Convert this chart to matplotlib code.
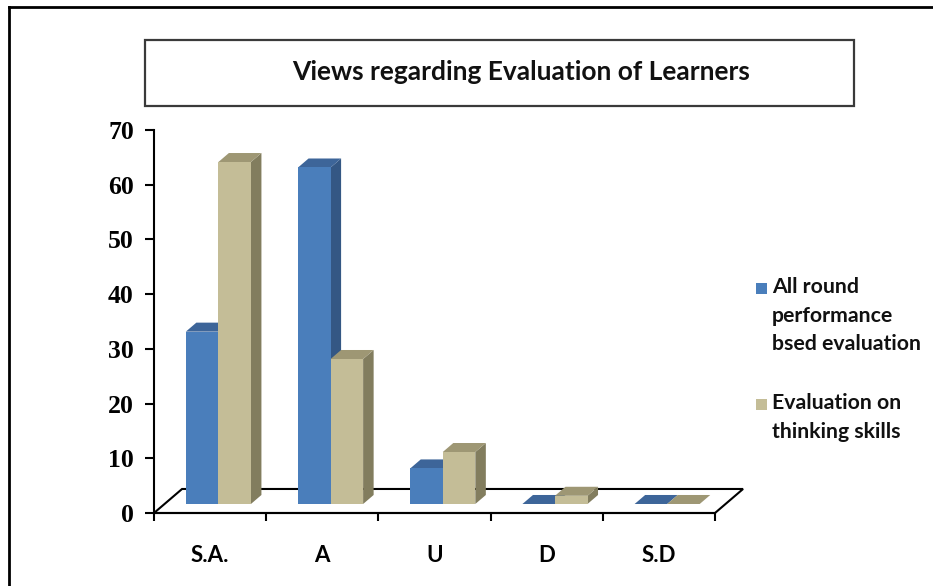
import matplotlib
matplotlib.use('Agg')
from matplotlib import pyplot as plt
from matplotlib.patches import Polygon, Rectangle
from matplotlib.lines import Line2D

categories = ['S.A.', 'A', 'U', 'D', 'S.D']
all_round = [31.5, 61.5, 6.5, 0, 0]
thinking = [62.5, 26.5, 9.5, 1.5, 0]
series_names = ['All round\nperformance\nbsed evaluation', 'Evaluation on\nthinking skills']
yticks = [0, 10, 20, 30, 40, 50, 60, 70]

W, H = 933, 586
front_cols = ['#4A7EBB', '#C4BD97']
top_cols = ['#3D6599', '#9E9774']
side_cols = ['#345784', '#827D5E']


def fx(px):
    return px / W


def fy(py):
    return 1 - py / H


fig = plt.figure(figsize=(W / 100, H / 100), dpi=100)
fig.patch.set_facecolor('white')

# outer frame (only left and top visible in the picture)
fig.add_artist(Line2D([fx(9), fx(9)], [fy(7), fy(600)], color='black', lw=2))
fig.add_artist(Line2D([fx(9), fx(940)], [fy(7), fy(7)], color='black', lw=2))

# title box
fig.add_artist(Rectangle((fx(145), fy(106)), fx(854) - fx(145), fy(40) - fy(106),
                         facecolor='white', edgecolor='#3a3a3a', lw=1.6))
fig.text(fx(521), fy(72), 'Views regarding Evaluation of Learners', ha='center', va='center',
         fontsize=19, fontweight='bold', family='Lato', color='#111111')

ax = fig.add_axes([fx(154), fy(513), fx(715) - fx(154), fy(130) - fy(513)])
ax.set_xlim(0, len(categories))
ax.set_ylim(0, 70)
ax.patch.set_alpha(0)
for s in ['top', 'right']:
    ax.spines[s].set_visible(False)
ax.spines['left'].set_linewidth(1.5)
ax.spines['bottom'].set_linewidth(1.5)

# depth of the floor, in data units
ddx, ddy = 0.25, 4.39
n = len(categories)
floor = Polygon([(0, 0), (ddx, ddy), (n + ddx, ddy), (n, 0)], closed=True,
                facecolor='white', edgecolor='black', lw=1.5, clip_on=False, zorder=1)
ax.add_patch(floor)

f = 0.375   # front of bars, fraction of floor depth
w = 0.29
bx, by = f * ddx, f * ddy
for i in range(n):
    for j, vals in enumerate([all_round, thinking]):
        v = vals[i]
        x0 = i + 0.5 - w + j * w + bx - 0.02
        x1 = x0 + w
        y0 = by
        y1 = y0 + v
        z = 3 + i * 2 + j
        ax.add_patch(Polygon([(x1, y0), (x1 + bx, y0 + by), (x1 + bx, y1 + by), (x1, y1)],
                             facecolor=side_cols[j], edgecolor='none', clip_on=False, zorder=z))
        ax.add_patch(Polygon([(x0, y1), (x0 + bx, y1 + by), (x1 + bx, y1 + by), (x1, y1)],
                             facecolor=top_cols[j], edgecolor='none', clip_on=False, zorder=z))
        if v > 0:
            ax.add_patch(Rectangle((x0, y0), w, v, facecolor=front_cols[j], edgecolor='none',
                                   clip_on=False, zorder=z))

ax.set_yticks(yticks)
ax.set_yticklabels([str(t) for t in yticks], family='Liberation Serif', fontweight='bold', fontsize=18.5)
ax.tick_params(axis='y', direction='out', length=6.5, width=1.5, pad=8)

ax.set_xticks(range(n + 1))
ax.set_xticklabels([''] * (n + 1))
ax.tick_params(axis='x', which='major', direction='out', length=6, width=1.5)
ax.set_xticks([i + 0.5 for i in range(n)], minor=True)
ax.set_xticklabels(categories, minor=True, family='Lato', fontweight='bold', fontsize=16)
ax.tick_params(axis='x', which='minor', length=0, pad=23)

# legend
sq_y = [283, 399]
for j, name in enumerate(series_names):
    fig.add_artist(Rectangle((fx(756), fy(sq_y[j] + 11)), fx(11), 11 / H,
                             facecolor=front_cols[j], edgecolor='none'))
    for k, line in enumerate(name.split('\n')):
        fig.text(fx(772), fy(sq_y[j] + 4 + k * 28.5), line, ha='left', va='center',
                 fontsize=15.3, fontweight='bold', family='Lato', color='#111111')

fig.savefig('out.png', dpi=100)
